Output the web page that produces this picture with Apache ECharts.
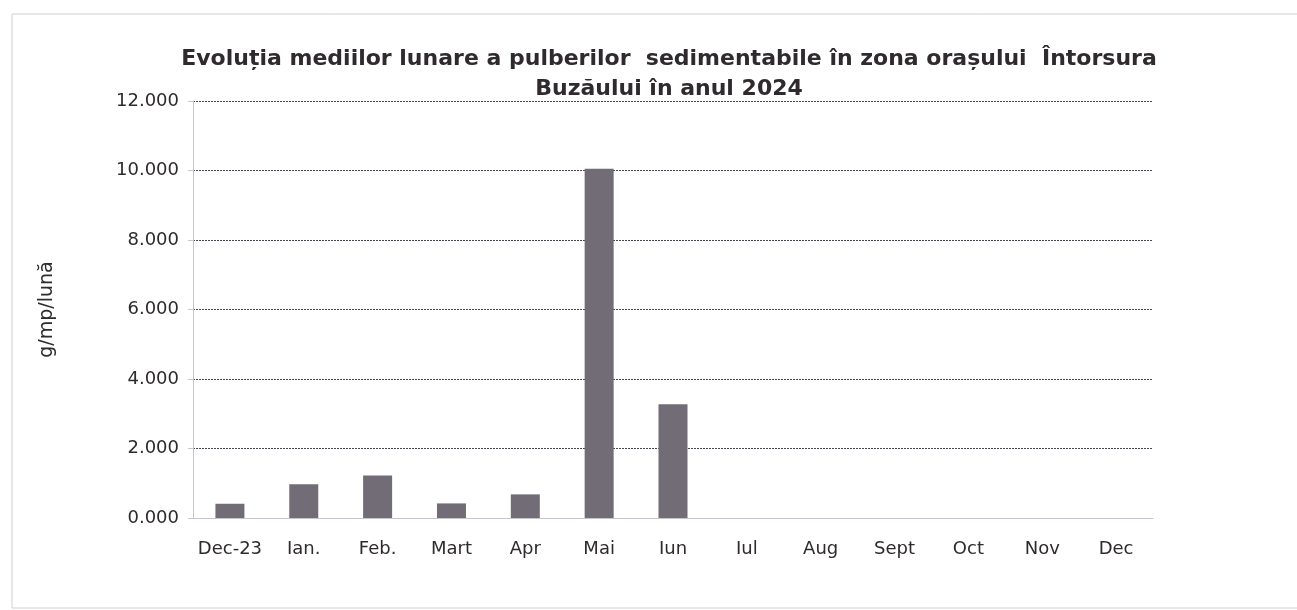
<!DOCTYPE html>
<html>
<head>
<meta charset="utf-8">
<script src="https://cdn.jsdelivr.net/npm/echarts@6/dist/echarts.min.js"></script>
<style>
  html, body { margin: 0; padding: 0; background: #fff; }
  #chart { width: 1297px; height: 610px; }
</style>
</head>
<body>
<div id="chart"></div>
<script>
// luni (categorii) si valorile medii g/mp/luna
const months = ["Dec-23", "Ian.", "Feb.", "Mart", "Apr", "Mai", "Iun", "Iul", "Aug", "Sept", "Oct", "Nov", "Dec"];
const values = [0.41, 0.97, 1.22, 0.42, 0.68, 10.05, 3.27, null, null, null, null, null, null];
const yTicks = [0, 2, 4, 6, 8, 10, 12];

const textFont = "DejaVu Sans";
const chart = echarts.init(document.getElementById("chart"));

chart.setOption({
  backgroundColor: "#fff",
  animation: false,
  title: {
    text: "Evoluția mediilor lunare a pulberilor  sedimentabile în zona orașului  Întorsura\nBuzăului în anul 2024",
    left: 664,
    top: 39,
    textAlign: "center",
    textStyle: {
      fontFamily: textFont,
      fontSize: 22,
      fontWeight: "bold",
      color: "#2e2a2e",
      lineHeight: 30
    }
  },
  graphic: [
    {
      type: "rect",
      shape: { x: 12, y: 14, width: 1300, height: 594 },
      style: { fill: "none", stroke: "#cfcfd4", lineWidth: 1 },
      silent: true
    }
  ],
  grid: { left: 193, right: 144, top: 101, bottom: 92 },
  xAxis: {
    type: "category",
    data: months,
    axisLine: { lineStyle: { color: "#c6c4cc", width: 1 } },
    axisTick: { show: false },
    axisLabel: {
      fontFamily: textFont,
      fontSize: 18,
      color: "#2e2a2e",
      margin: 22,
      interval: 0
    }
  },
  yAxis: {
    type: "value",
    min: yTicks[0],
    max: yTicks[yTicks.length - 1],
    interval: 2,
    name: "g/mp/lună",
    nameLocation: "middle",
    nameRotate: 90,
    nameGap: 136,
    nameTextStyle: { fontFamily: textFont, fontSize: 19, color: "#2e2a2e" },
    axisLine: { show: true, lineStyle: { color: "#c6c4cc", width: 1 } },
    axisTick: { show: true, length: 5, lineStyle: { color: "#c6c4cc" } },
    axisLabel: {
      fontFamily: textFont,
      fontSize: 18,
      color: "#2e2a2e",
      margin: 14,
      formatter: v => v.toFixed(3)
    },
    splitLine: { lineStyle: { color: "#4a4650", type: [2, 1], width: 1 } }
  },
  series: [
    {
      type: "bar",
      data: values,
      barWidth: 29,
      itemStyle: { color: "#726c76" }
    }
  ]
});
</script>
</body>
</html>
